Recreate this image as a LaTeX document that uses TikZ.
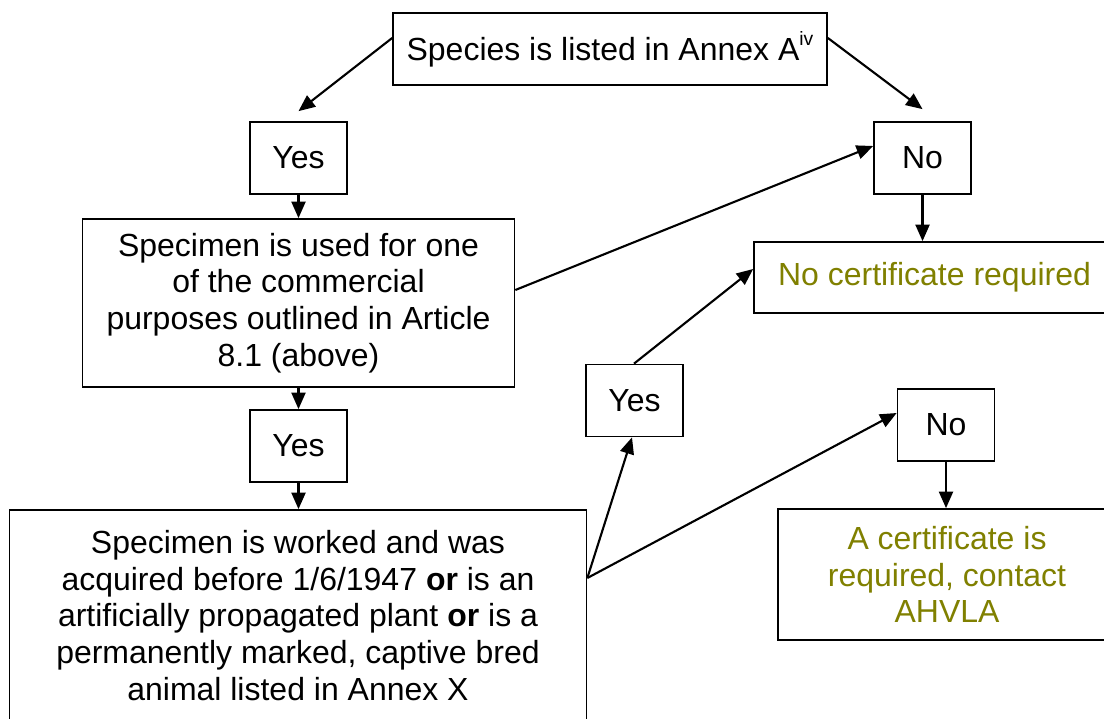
\documentclass[tikz,border=0pt]{standalone}
\usepackage{fontspec}
\setmainfont{Liberation Sans}
\usetikzlibrary{arrows.meta}
\definecolor{certolive}{HTML}{808000}

\begin{document}
\begin{tikzpicture}[x=0.02cm,y=-0.02cm,
    box/.style={draw,line width=1pt,inner sep=0pt,align=center,
      font=\fontsize{18.2pt}{20.9pt}\selectfont},
    answer/.style={box,minimum width=1.94cm,minimum height=1.44cm},
    outcome/.style={text=certolive},
    arr/.style={line width=1.2pt,-{Triangle[length=0.33cm,width=0.28cm]}}]
    \useasboundingbox (0,0) rectangle (1104,719);
    \clip (0,0) rectangle (1104,719);
    % Question
    \node[box,minimum width=8.68cm,minimum height=1.44cm] (annex) at (610,49)
      {Species is listed in Annex A\raisebox{0.9ex}{\fontsize{11pt}{11pt}\selectfont iv}};
    % First answers
    \node[answer] (yesA) at (298.5,158) {Yes};
    \node[answer] (noA) at (922.5,158) {No};
    % Commercial use
    \node[box,minimum width=8.64cm,minimum height=3.36cm] (commerce) at (298.5,303)
      {Specimen is used for one\\of the commercial\\purposes outlined in Article\\8.1 (above)};
    \node[box,outcome,minimum width=7.22cm,minimum height=1.42cm] (nocert) at (934.5,277.5)
      {No certificate required};
    \node[answer] (yesB) at (298.5,446) {Yes};
    % Exemptions
    \node[box,minimum width=11.54cm,minimum height=4.22cm] (worked) at (298,615.5)
      {Specimen is worked and was\\acquired before 1/6/1947 \textbf{or} is an\\artificially propagated plant \textbf{or} is a\\permanently marked, captive bred\\animal listed in Annex X};
    \node[answer] (yesC) at (634.5,400.5) {Yes};
    \node[answer] (noC) at (946,425) {No};
    \node[box,outcome,minimum width=6.76cm,minimum height=2.62cm] (cert) at (947,574.5)
      {A certificate is\\required, contact\\AHVLA};
    % Connectors
    \draw[arr] ([yshift=0.22cm]annex.west) -- ([yshift=0.2cm]yesA.north);
    \draw[arr] ([yshift=0.22cm]annex.east) -- ([yshift=0.24cm]noA.north);
    \draw[arr] (yesA.south) -- (commerce.north);
    \draw[arr] ([yshift=0.26cm]commerce.east) -- ([yshift=0.24cm]noA.west);
    \draw[arr] (noA.south) -- (noA.south |- nocert.north);
    \draw[arr] (commerce.south) -- (yesB.north);
    \draw[arr] (yesB.south) -- (yesB.south |- worked.north);
    \coordinate (fork) at ([yshift=0.75cm]worked.east);
    \draw[arr] (fork) -- ([xshift=-0.05cm]yesC.south);
    \draw[arr] (fork) -- ([yshift=0.24cm]noC.west);
    \draw[arr] ([xshift=-0.01cm]yesC.north) -- ([yshift=0.17cm]nocert.west);
    \draw[arr] (noC.south) -- (noC.south |- cert.north);
\end{tikzpicture}
\end{document}
